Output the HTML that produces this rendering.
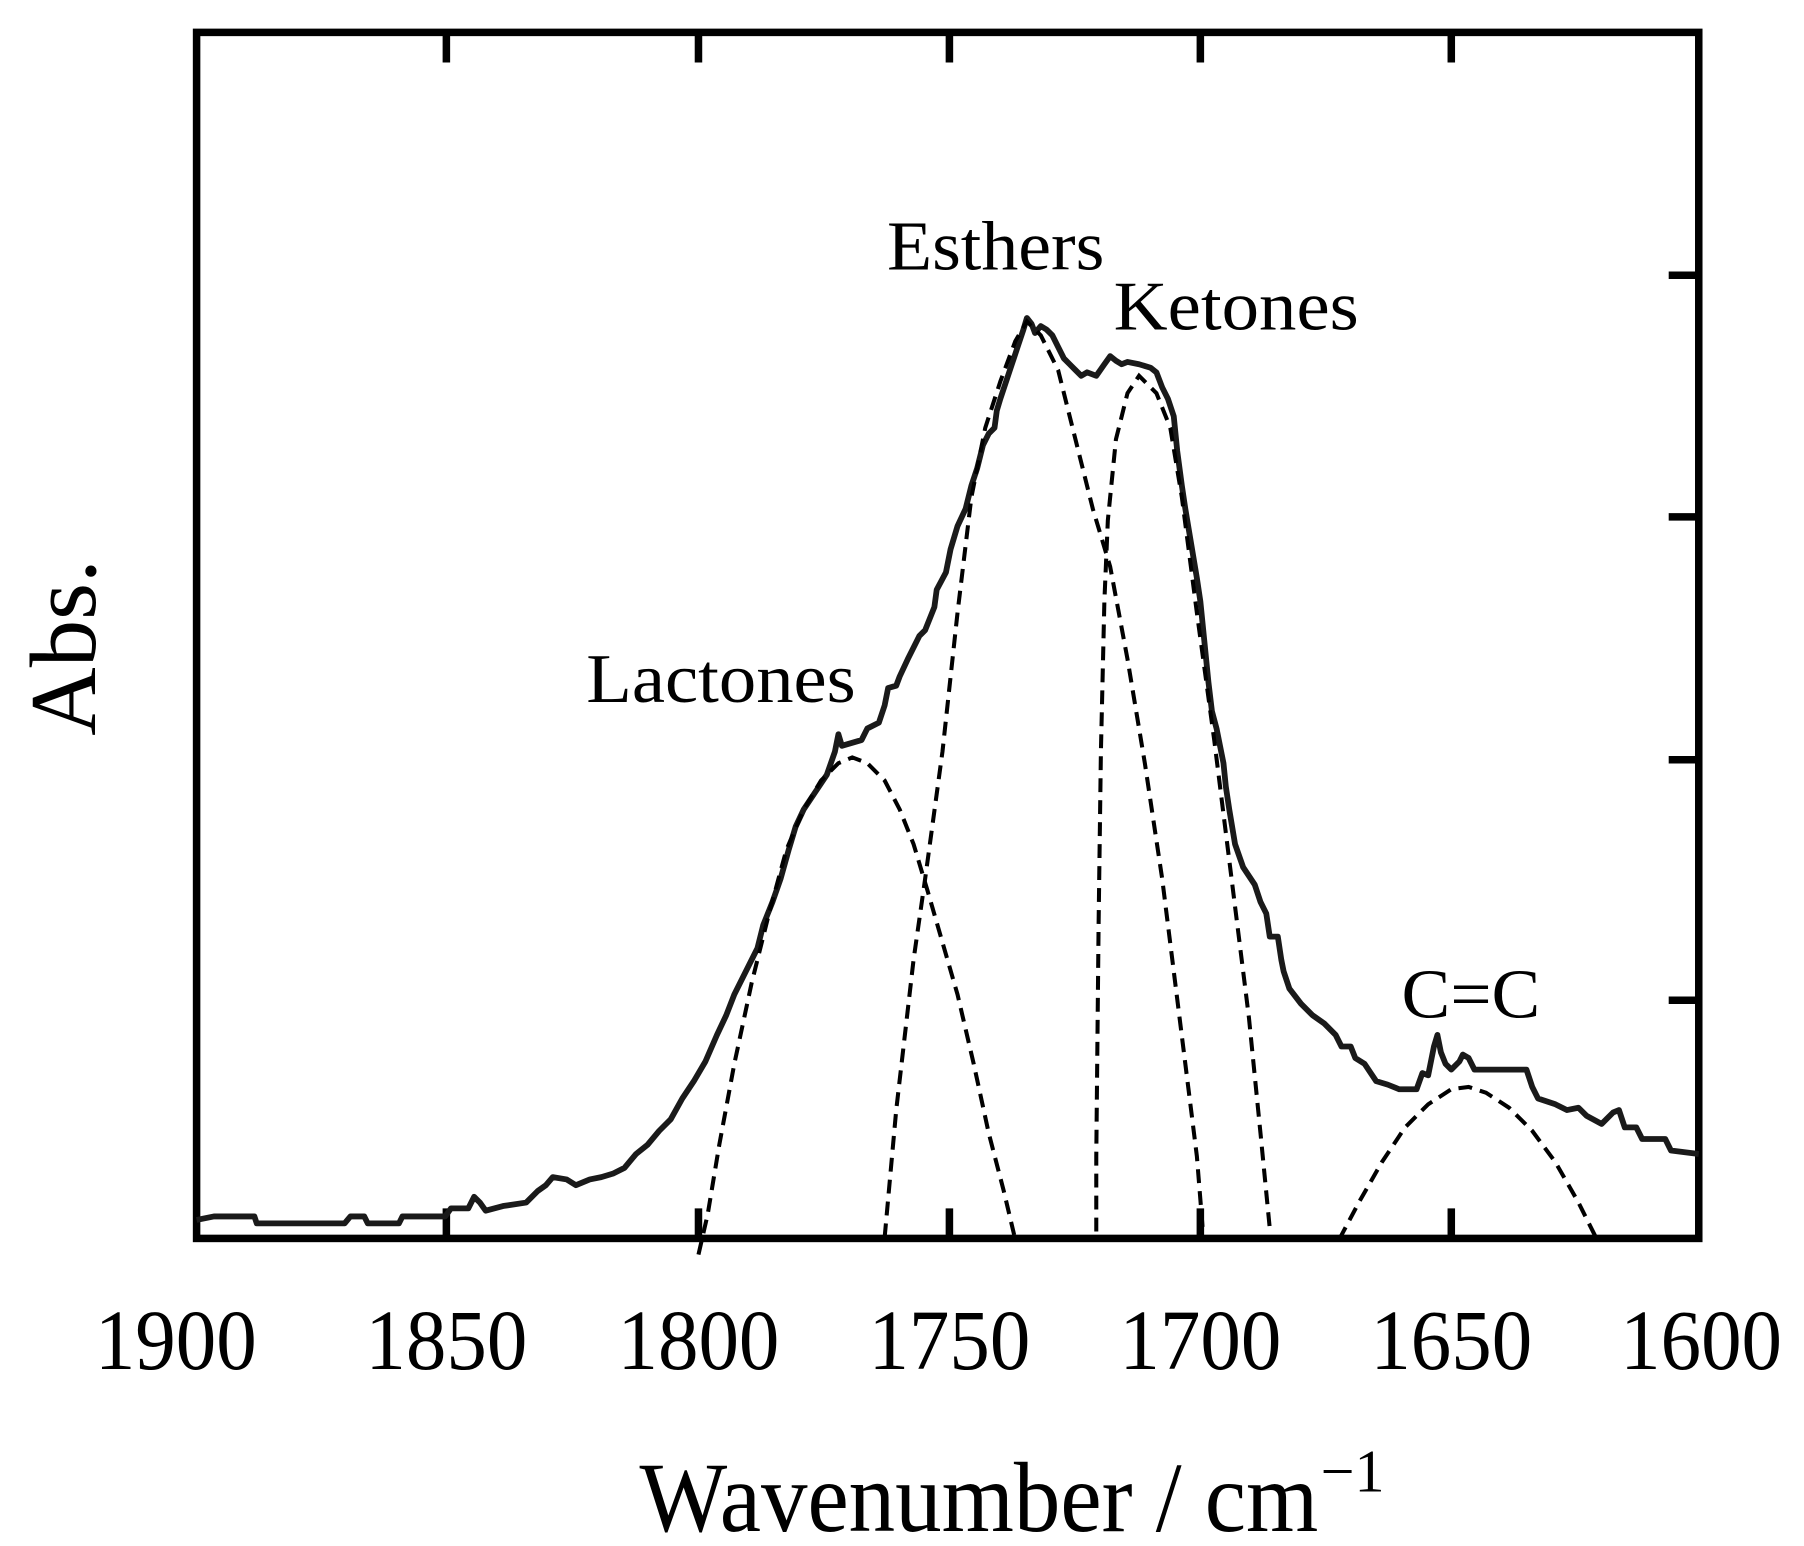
<!DOCTYPE html>
<html><head><meta charset="utf-8"><style>html,body{margin:0;padding:0;background:#fff}svg{display:block}</style></head>
<body>
<svg width="1804" height="1546" viewBox="0 0 1560 1337" preserveAspectRatio="none" xmlns="http://www.w3.org/2000/svg" font-family="Liberation Serif, serif">
<rect x="0" y="0" width="1560" height="1337" fill="#fff"/>
<g stroke="#000" stroke-width="6.5" fill="none">
<rect x="170" y="28" width="1299" height="1043"/>
<path d="M386 28v26M604 28v26M821 28v26M1038 28v26M1255 28v26M386 1071v-26M604 1071v-26M821 1071v-26M1038 1071v-26M1255 1071v-26M1469 238h-26M1469 447h-26M1469 657h-26M1469 865h-26"/>
</g>
<polyline fill="none" stroke="#1a1a1a" stroke-width="5" stroke-linejoin="round" points="170,1055 185,1052 220,1052 222,1058 298,1058 303,1052 315,1052 318,1058 345,1058 348,1052 385,1052 390,1045 405,1045 410,1035 415,1040 420,1047 435,1043 455,1040 465,1030 472,1025 478,1018 490,1020 498,1025 510,1020 520,1018 530,1015 540,1010 550,998 560,990 570,978 580,968 590,950 600,935 610,918 620,895 628,878 635,860 645,840 655,820 660,800 668,780 675,760 682,735 688,715 695,700 705,685 715,670 722,650 725,635 728,645 745,640 750,630 760,625 765,610 768,595 775,593 778,585 785,570 795,550 800,545 808,525 810,510 818,495 822,475 828,455 835,440 840,420 845,405 850,385 855,375 860,370 862,355 865,345 870,330 875,315 880,300 885,285 888,275 892,280 895,288 900,282 905,285 910,290 915,300 920,310 925,315 930,320 935,325 940,322 948,325 955,315 960,308 965,312 970,315 975,313 985,315 995,318 1000,322 1005,335 1010,345 1015,360 1018,390 1022,420 1025,440 1030,470 1035,500 1038,520 1042,560 1045,590 1048,615 1052,630 1058,660 1060,680 1063,700 1068,730 1075,750 1085,765 1090,780 1095,790 1098,810 1105,810 1108,830 1110,840 1115,855 1125,868 1135,878 1145,885 1155,895 1160,905 1168,905 1172,915 1180,920 1190,935 1200,938 1210,942 1225,942 1230,928 1235,930 1240,905 1243,895 1246,910 1250,920 1255,925 1262,918 1265,912 1270,915 1275,925 1320,925 1325,940 1330,950 1345,955 1355,960 1365,958 1372,965 1385,972 1395,962 1400,960 1405,975 1415,975 1420,985 1440,985 1445,995 1469,998"/>
<g fill="none" stroke="#000" stroke-width="3.5" stroke-dasharray="12,7">
<polyline points="604,1085 612,1050 622,990 635,920 650,850 665,790 680,735 695,700 710,675 725,660 737,655 750,660 765,675 778,700 790,730 802,770 815,815 828,860 842,920 855,980 868,1030 877,1068"/>
<polyline points="765,1070 775,960 790,830 800,760 815,650 828,530 840,430 852,370 865,330 878,295 888,278 900,290 915,320 930,380 945,440 960,490 975,570 990,660 1005,760 1020,880 1035,1000 1040,1062"/>
<polyline points="948,1065 948,1000 950,800 952,650 955,520 958,450 965,380 975,340 985,325 1000,340 1012,370 1022,430 1035,530 1050,640 1065,760 1080,880 1090,980 1098,1062"/>
<polyline points="1158,1072 1175,1040 1195,1005 1215,975 1235,955 1255,942 1270,940 1285,945 1305,958 1325,978 1345,1005 1365,1040 1380,1070"/>
</g>
<g font-size="74" fill="#000">
<text x="82" y="1184" textLength="140" lengthAdjust="spacingAndGlyphs">1900</text>
<text x="316" y="1184" textLength="140" lengthAdjust="spacingAndGlyphs">1850</text>
<text x="534" y="1184" textLength="140" lengthAdjust="spacingAndGlyphs">1800</text>
<text x="751" y="1184" textLength="140" lengthAdjust="spacingAndGlyphs">1750</text>
<text x="968" y="1184" textLength="140" lengthAdjust="spacingAndGlyphs">1700</text>
<text x="1185" y="1184" textLength="140" lengthAdjust="spacingAndGlyphs">1650</text>
<text x="1401" y="1184" textLength="140" lengthAdjust="spacingAndGlyphs">1600</text>
</g>
<text x="553" y="1324" font-size="86" textLength="587" lengthAdjust="spacingAndGlyphs">Wavenumber / cm</text>
<text x="1142" y="1290" font-size="52">−1</text>
<text transform="translate(82,560) rotate(-90)" font-size="82" text-anchor="middle">Abs.</text>
<g font-size="60" fill="#000">
<text x="767" y="233" textLength="188" lengthAdjust="spacingAndGlyphs">Esthers</text>
<text x="963" y="285" textLength="212" lengthAdjust="spacingAndGlyphs">Ketones</text>
<text x="507" y="607" textLength="233" lengthAdjust="spacingAndGlyphs">Lactones</text>
<text x="1212" y="880" textLength="120" lengthAdjust="spacingAndGlyphs">C=C</text>
</g>
</svg>
</body></html>
